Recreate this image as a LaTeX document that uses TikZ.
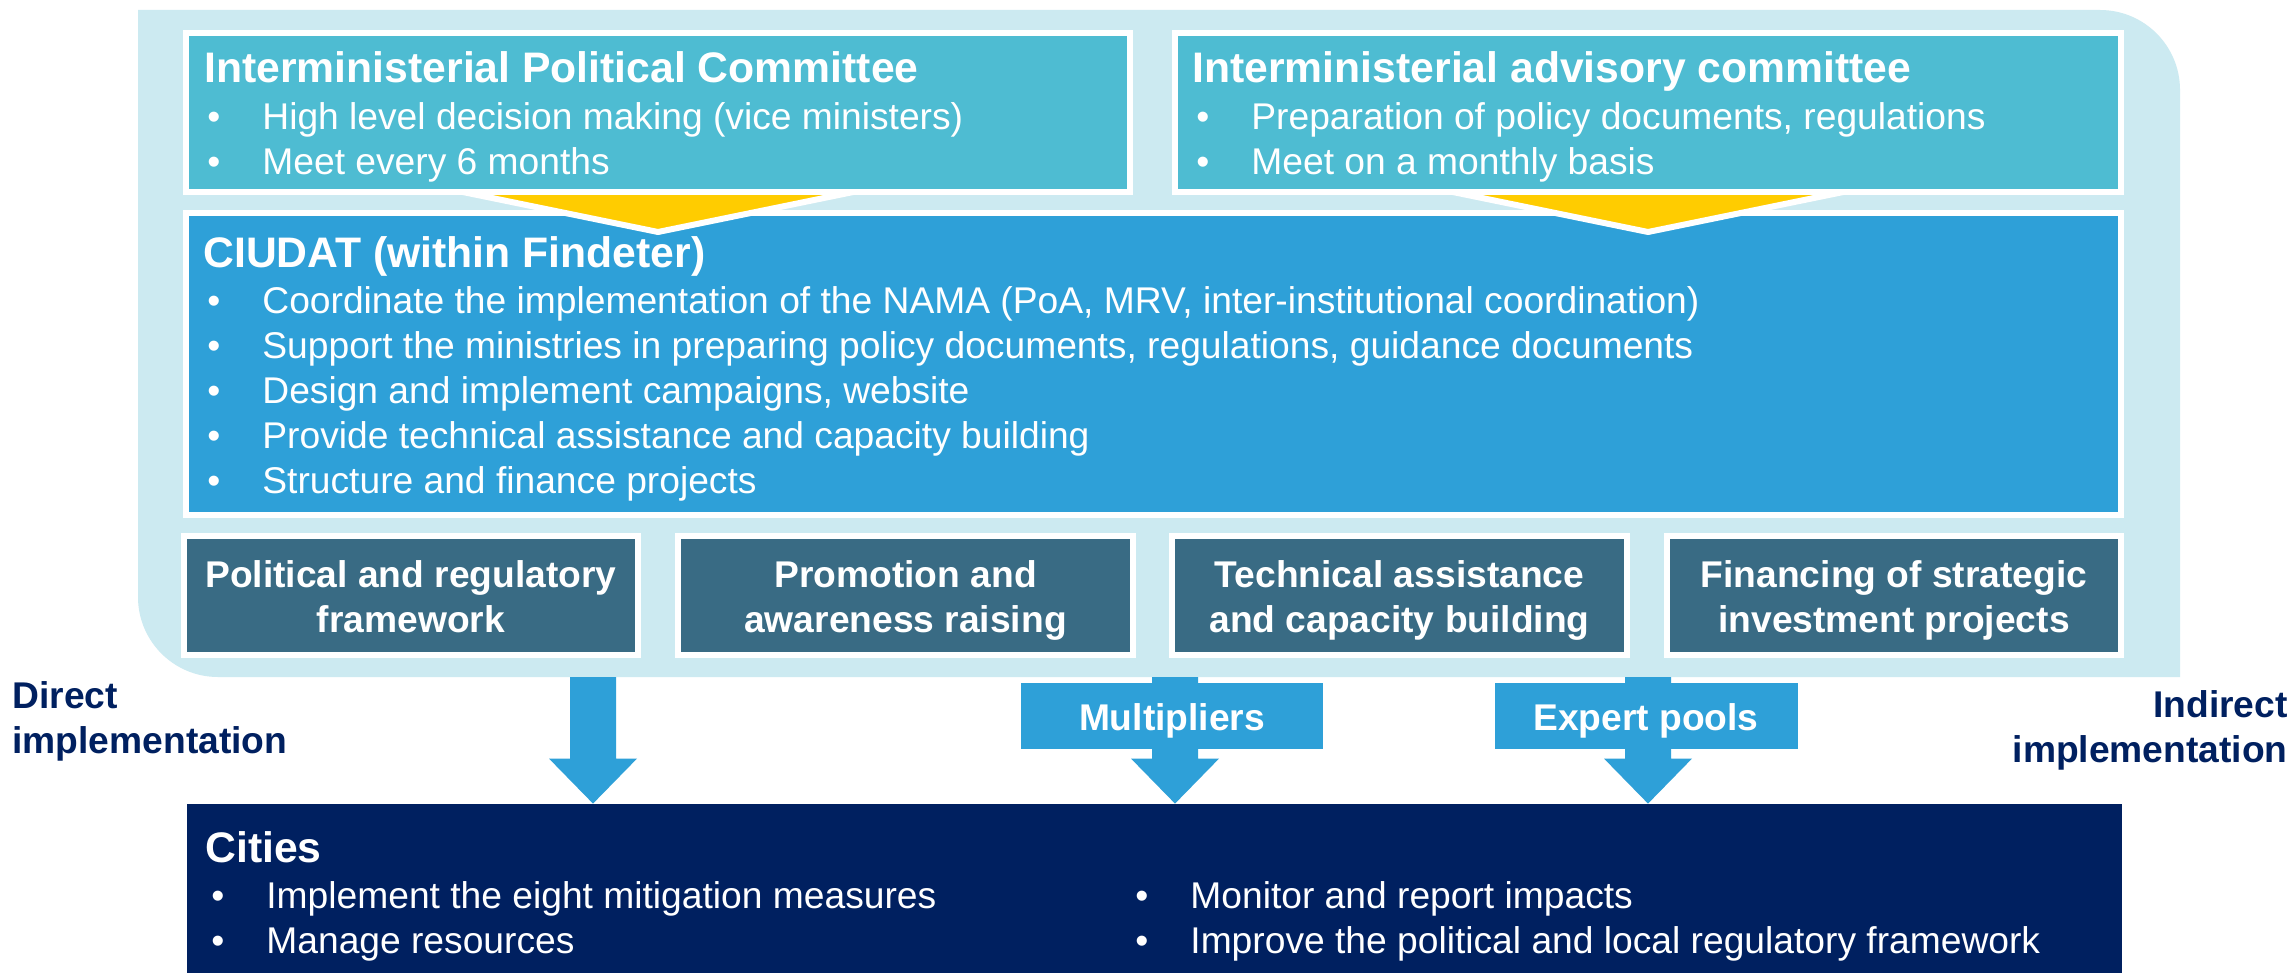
\documentclass[tikz,border=0pt]{standalone}
\usepackage{fontspec}
\setmainfont{Liberation Sans}
\usetikzlibrary{calc,fit}

\definecolor{panelc}{RGB}{204,234,241}
\definecolor{comc}{RGB}{78,188,210}
\definecolor{ciuc}{RGB}{46,160,216}
\definecolor{pilc}{RGB}{57,107,132}
\definecolor{yelc}{RGB}{255,204,0}
\definecolor{navyc}{RGB}{0,32,96}

\tikzset{
  box/.style={draw=white, line width=3pt, inner sep=0pt},
  plain/.style={draw=none, inner sep=0pt},
  ttl/.style={anchor=base west, inner sep=0pt, text=white,
    font=\fontsize{21.35}{25}\selectfont\bfseries},
  bul/.style={anchor=base west, inner sep=0pt, text=white,
    font=\fontsize{18.6}{22}\selectfont},
  pil/.style={anchor=base, inner sep=0pt, text=white,
    font=\fontsize{18.6}{22}\selectfont\bfseries},
  side/.style={inner sep=0pt, text=navyc,
    font=\fontsize{18.6}{22}\selectfont\bfseries},
  chevron/.style={fill=yelc, draw=white, line width=3pt, line join=round},
  blockarrow/.style={fill=ciuc, draw=none},
}

% bullet line: name, x of the dot, baseline y, text
\newcommand\bitem[4]{%
  \node[bul] (#1d) at (#2,#3) {•};
  \node[bul] (#1) at ($(#2,#3)+(55,0)$) {#4};}

% wide block arrow from a start coordinate down to a tip coordinate
\newcommand\barrow[2]{%
  \fill[blockarrow] ($(#1)+(-23,0)$) -- ($(#1)+(23,0)$) -- ($(#2)+(23,-45)$)
    -- ($(#2)+(44,-45)$) -- (#2) -- ($(#2)+(-44,-45)$) -- ($(#2)+(-23,-45)$) -- cycle;}

\begin{document}
\begin{tikzpicture}[x=0.5pt, y=-0.5pt]
\useasboundingbox (0,0) rectangle (2295,973);
\fill[white] (0,0) rectangle (2295,973);

% light background panel
\fill[panelc] (138,10) -- (2100,10) arc[start angle=270, end angle=360, radius=80]
  -- (2180,677) -- (218,677) arc[start angle=90, end angle=180, radius=80] -- cycle;

% CIUDAT
\node[box, fill=ciuc, fit={(186,213) (2121,515)}] (ciudat) {};

% committees and the chevrons below them
\node[box, fill=comc, fit={(186,33) (1130,192)}] (ipc) {};
\node[box, fill=comc, fit={(1175,33) (2121,192)}] (iac) {};
\filldraw[chevron] ($(ipc.south)+(-288,-22)$) -- ($(ipc.south)+(288,-22)$) -- ($(ipc.south)+(0,37)$) -- cycle;
\filldraw[chevron] ($(iac.south)+(-288,-22)$) -- ($(iac.south)+(288,-22)$) -- ($(iac.south)+(0,37)$) -- cycle;
\node[box, fill=comc, fit={(186,33) (1130,192)}] (ipc) {};
\node[box, fill=comc, fit={(1175,33) (2121,192)}] (iac) {};

% four pillars
\node[box, fill=pilc, fit={(184,536) (638,655)}] (p1) {};
\node[box, fill=pilc, fit={(678,536) (1133,655)}] (p2) {};
\node[box, fill=pilc, fit={(1172,536) (1627,655)}] (p3) {};
\node[box, fill=pilc, fit={(1667,536) (2121,655)}] (p4) {};

% cities
\node[plain, fill=navyc, fit={(187,804) (2122,973)}] (cities) {};

% arrows down to the cities
\coordinate (a1s) at (593,677);
\coordinate (a2s) at (1175,677);
\coordinate (a3s) at (1648,677);
\coordinate (a1e) at (cities.north -| a1s);
\coordinate (a2e) at (cities.north -| a2s);
\coordinate (a3e) at (cities.north -| a3s);
\barrow{a1s}{a1e}
\barrow{a2s}{a2e}
\barrow{a3s}{a3e}
\node[plain, fill=ciuc, fit={(1021,683) (1323,749)}] (mult) {};
\node[plain, fill=ciuc, fit={(1495,683) (1798,749)}] (expert) {};
\node[pil] (multt) at (1172,730) {Multipliers};
\node[pil] (expertt) at (1646,730) {Expert pools};

% committee texts
\node[ttl] (ipct) at (204,83) {Interministerial Political Committee};
\bitem{ipc1}{207}{130}{High level decision making (vice ministers)}
\bitem{ipc2}{207}{175}{Meet every 6 months}

\node[ttl] (iact) at (1192,83) {Interministerial advisory committee};
\bitem{iac1}{1196}{130}{Preparation of policy documents, regulations}
\bitem{iac2}{1196}{175}{Meet on a monthly basis}

% CIUDAT texts
\node[ttl] (ciut) at (203,267) {CIUDAT (within Findeter)};
\bitem{ciu1}{207}{313}{Coordinate the implementation of the NAMA (PoA, MRV, inter-institutional coordination)}
\bitem{ciu2}{207}{358}{Support the ministries in preparing policy documents, regulations, guidance documents}
\bitem{ciu3}{207}{403}{Design and implement campaigns, website}
\bitem{ciu4}{207}{448}{Provide technical assistance and capacity building}
\bitem{ciu5}{207}{493}{Structure and finance projects}

% pillar texts
\node[pil] (p1a) at (p1.center |- 0,587) {Political and regulatory};
\node[pil] (p1b) at (p1.center |- 0,632) {framework};
\node[pil] (p2a) at (p2.center |- 0,587) {Promotion and};
\node[pil] (p2b) at (p2.center |- 0,632) {awareness raising};
\node[pil] (p3a) at (p3.center |- 0,587) {Technical assistance};
\node[pil] (p3b) at (p3.center |- 0,632) {and capacity building};
\node[pil] (p4a) at (p4.center |- 0,587) {Financing of strategic};
\node[pil] (p4b) at (p4.center |- 0,632) {investment projects};

% side labels
\node[side, anchor=base west] (dir1) at (12,708) {Direct};
\node[side, anchor=base west] (dir2) at (12,753) {implementation};
\node[side, anchor=base east] (ind1) at (2288,717) {Indirect};
\node[side, anchor=base east] (ind2) at (2288,762) {implementation};

% cities texts
\node[ttl] (cityt) at (205,862) {Cities};
\bitem{cit1}{211}{908}{Implement the eight mitigation measures}
\bitem{cit2}{211}{953}{Manage resources}
\bitem{cit3}{1135}{908}{Monitor and report impacts}
\bitem{cit4}{1135}{953}{Improve the political and local regulatory framework}
\end{tikzpicture}
\end{document}
